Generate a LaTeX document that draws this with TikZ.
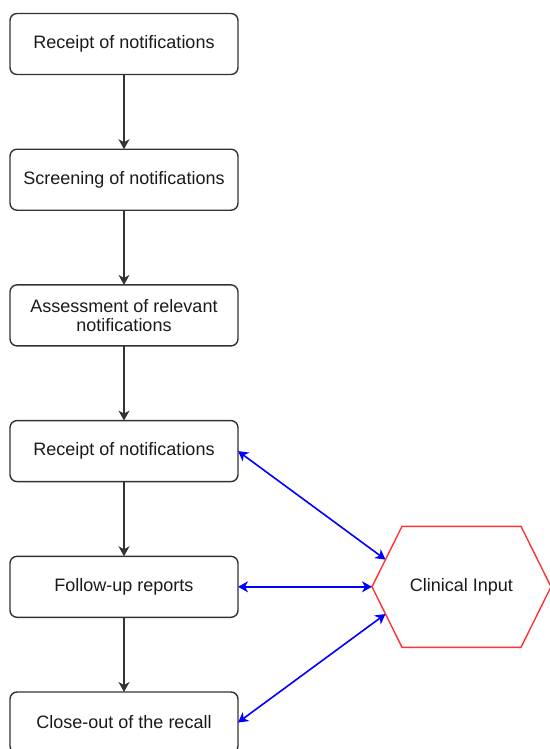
\documentclass[tikz,border=0pt]{standalone}
\usepackage{fontspec}
\setmainfont{Liberation Sans}
\usetikzlibrary{positioning,arrows.meta,calc}
\definecolor{ink}{HTML}{1A1A1A}
\definecolor{edge}{HTML}{333333}
\definecolor{link}{HTML}{0000FF}
\definecolor{clinred}{HTML}{FF3333}

\begin{document}
\begin{tikzpicture}[
  font=\fontsize{18bp}{19.5bp}\selectfont,
  >={Stealth[length=10bp,width=11bp,inset=3bp]},
  node distance=74.7bp,
  stepblk/.style={draw=edge,rounded corners=7bp,line width=1.4bp,minimum width=228bp,minimum height=61bp,align=center,inner sep=0pt,outer sep=0pt,text=ink},
  hexblk/.style={minimum width=179bp,minimum height=121bp,inner sep=0pt,outer sep=0pt,text=ink},
  flow/.style={->,line width=1.6bp,edge},
  feed/.style={<->,line width=1.6bp,link}
]
\useasboundingbox (-124bp,44bp) rectangle (426bp,-705bp);
% main chain
\node[stepblk] (r1) at (0,0) {Receipt of notifications};
\node[stepblk,below=of r1] (r2) {Screening of notifications};
\node[stepblk,below=of r2] (r3) {Assessment of relevant\\notifications};
\node[stepblk,below=of r3] (r4) {Receipt of notifications};
\node[stepblk,below=of r4] (r5) {Follow-up reports};
\node[stepblk,below=of r5] (r6) {Close-out of the recall};
% arrows down
\foreach \a/\b in {r1/r2,r2/r3,r3/r4,r4/r5,r5/r6}
  \draw[flow] (\a) -- (\b);
% clinical input
\node[hexblk,right=134bp of r5] (clin) {Clinical Input};
\draw[draw=clinred,line width=1.4bp] (clin.west) -- ([xshift=30bp]clin.north west) -- ([xshift=-30bp]clin.north east) -- (clin.east) -- ([xshift=-30bp]clin.south east) -- ([xshift=30bp]clin.south west) -- cycle;
\coordinate (clin-up) at ($(clin.west)!0.45!([xshift=30bp]clin.north west)$);
\coordinate (clin-dn) at ($(clin.west)!0.45!([xshift=30bp]clin.south west)$);
% links to clinical input
\draw[feed] (r4.east) -- (clin-up);
\draw[feed] (r5.east) -- (clin.west);
\draw[feed] (r6.east) -- (clin-dn);
\end{tikzpicture}
\end{document}
